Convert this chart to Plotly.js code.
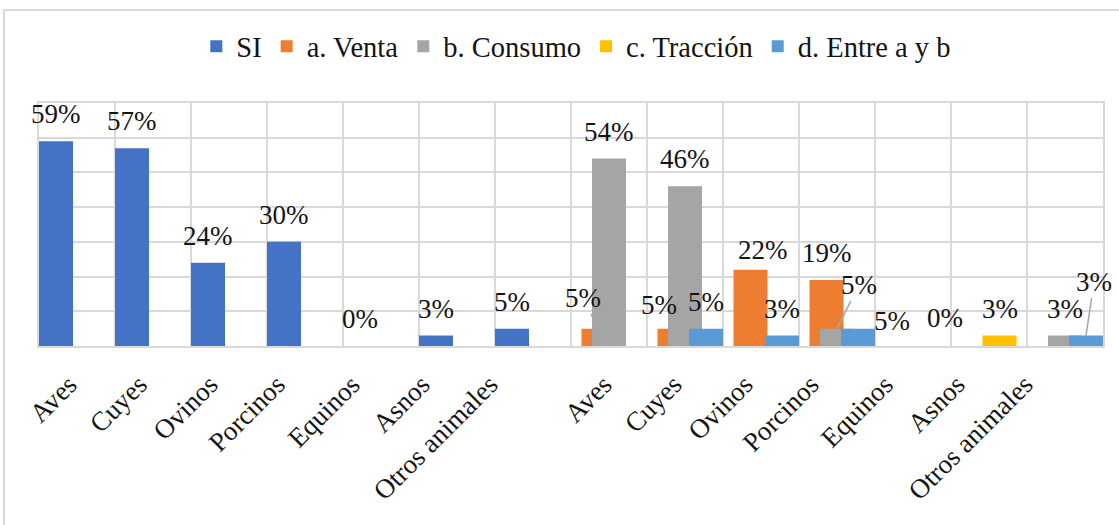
<!DOCTYPE html>
<html>
<head>
<meta charset="utf-8">
<script src="https://cdn.plot.ly/plotly-3.0.1.min.js"></script>
<style>
  html, body { margin: 0; padding: 0; overflow: hidden; background: #fff; }
  #chart { width: 1119px; height: 525px; position: absolute; left: 0; top: 0; }
  #frame { position: absolute; left: 3px; top: 9px; width: 1300px; height: 700px;
           border: 2px solid #d9d9d9; pointer-events: none; }
</style>
</head>
<body>
<div id="chart"></div>
<div id="frame"></div>
<script>
// ---- data ----
const categories = ["Aves", "Cuyes", "Ovinos", "Porcinos", "Equinos", "Asnos", "Otros animales",
                    "Aves", "Cuyes", "Ovinos", "Porcinos", "Equinos", "Asnos", "Otros animales"];
const seriesNames = ["SI", "a. Venta", "b. Consumo", "c. Tracción", "d. Entre a y b"];
const siValues      = [0.59, 0.57, 0.24, 0.30, 0.00, 0.03, 0.05, null, null, null, null, null, null, null];
const ventaValues   = [null, null, null, null, null, null, null, 0.05, 0.05, 0.22, 0.19, null, null, null];
const consumoValues = [null, null, null, null, null, null, null, 0.54, 0.46, null, 0.05, null, null, 0.03];
const traccionValues= [null, null, null, null, null, null, null, null, null, null, null, null, 0.03, null];
const entreValues   = [null, null, null, null, null, null, null, null, 0.05, 0.03, 0.05, 0.00, null, 0.03];

// ---- styling ----
const seriesValues = [siValues, ventaValues, consumoValues, traccionValues, entreValues];
const colors = ["#4472C4", "#ED7D31", "#A5A5A5", "#FFC000", "#5B9BD5"];
const barWidth = 0.4474;
const step = 0.1382;
const FONT = "Liberation Serif";
// horizontal nudge of each rotated tick label (category units), as placed in the original
const tickNudge = [-0.105, -0.184, -0.25, -0.368, -0.382, -0.461, -0.566,
                   -0.066, -0.145, -0.211, -0.342, -0.368, -0.421, -0.526];

// label offsets (pixels) for labels that were moved by hand; [series, index]: [dx, dy, leader]
const moved = {
  "1-7":  [-16, -31, true],
  "1-8":  [-16, -24, false],
  "1-9":  [12, -20, false],
  "2-10": [22, -44, true],
  "4-10": [34, -8, false],
  "4-11": [11, -28, false],
  "4-13": [8, -54, true]
};

const xIdx = categories.map((c, i) => i);
const traces = seriesValues.map((vals, s) => ({
  type: "bar",
  name: seriesNames[s],
  x: xIdx,
  y: vals,
  width: barWidth,
  offset: -0.5 + s * step,
  marker: { color: colors[s], line: { width: 0 } },
  hoverinfo: "skip"
}));

const annotations = [];
seriesValues.forEach((vals, s) => {
  vals.forEach((v, i) => {
    if (v === null) return;
    const xc = i - 0.5 + s * step + barWidth / 2;
    const txt = Math.round(v * 100) + "%";
    const key = s + "-" + i;
    const m = moved[key];
    const base = { x: xc, y: v, xref: "x", yref: "y", text: txt,
                   font: { family: FONT, size: 27, color: "#141414" } };
    if (m && m[2]) {
      annotations.push(Object.assign(base, {
        showarrow: true, arrowhead: 0, arrowwidth: 1.5, arrowcolor: "#a6a6a6",
        ax: m[0], ay: m[1], standoff: 0
      }));
    } else {
      const dx = m ? m[0] : 0, dy = m ? m[1] : -27;
      annotations.push(Object.assign(base, {
        showarrow: false, xanchor: "center", yanchor: "middle",
        xshift: dx, yshift: -dy
      }));
    }
  });
});

const layout = {
  width: 1119, height: 525,
  margin: { l: 39, r: 16, t: 103, b: 179 },
  paper_bgcolor: "#ffffff", plot_bgcolor: "#ffffff",
  barmode: "overlay",
  showlegend: true,
  legend: {
    orientation: "h", x: 0.505, xanchor: "center", y: 1.232, yanchor: "middle",
    font: { family: FONT, size: 28.5, color: "#141414" },
    itemclick: false, itemdoubleclick: false
  },
  xaxis: {
    range: [-0.5, 13.5],
    tickmode: "array", tickvals: xIdx.map(i => i + tickNudge[i]), ticktext: categories,
    tickangle: -45, ticks: "",
    ticklabelstandoff: 10,
    tickfont: { family: FONT, size: 27, color: "#141414" },
    showgrid: false, zeroline: false,
    showline: true, mirror: true, linecolor: "#d9d9d9", linewidth: 2,
    minor: { tickmode: "linear", tick0: 0.5, dtick: 1, showgrid: true,
             gridcolor: "#d9d9d9", gridwidth: 2, ticks: "" },
    fixedrange: true
  },
  yaxis: {
    range: [0, 0.7], dtick: 0.1, tick0: 0,
    showticklabels: false, ticks: "",
    showgrid: true, gridcolor: "#d9d9d9", gridwidth: 2,
    zeroline: false,
    showline: true, mirror: true, linecolor: "#d9d9d9", linewidth: 2,
    fixedrange: true
  },
  annotations: annotations
};

Plotly.newPlot("chart", traces, layout, { displayModeBar: false, staticPlot: true });
</script>
</body>
</html>
